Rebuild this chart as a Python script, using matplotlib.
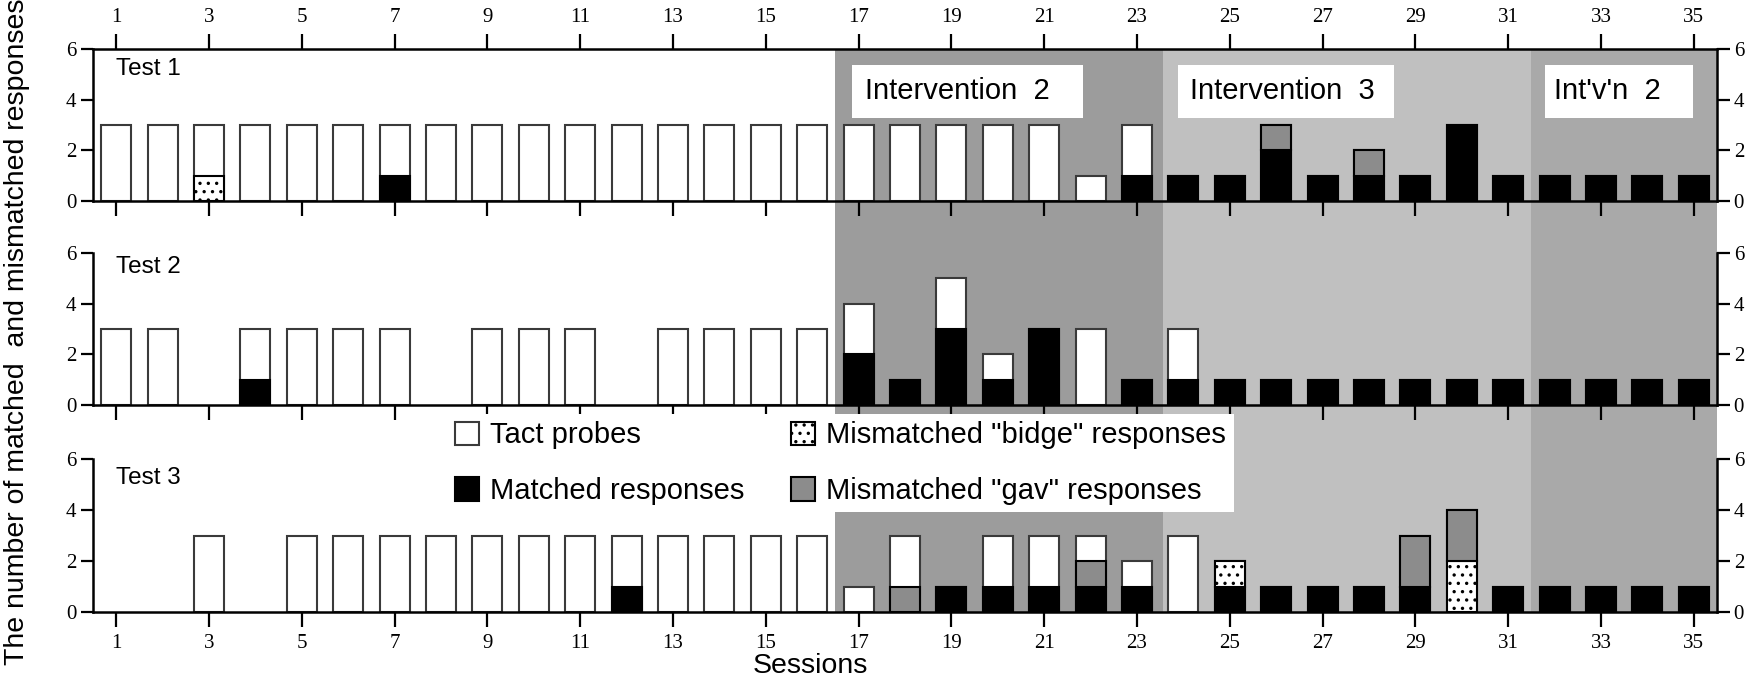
import numpy as np
import matplotlib
matplotlib.use('Agg')
import matplotlib.pyplot as plt
from matplotlib.patches import Rectangle, Patch
from matplotlib import transforms

plt.rcParams['font.family'] = ['Liberation Sans', 'DejaVu Sans']
plt.rcParams['hatch.linewidth'] = 1.2

### data (one value per session, sessions 1..35):
sessions = np.arange(1, 36)

total1   = [3,3,3,3,3,3,3,3,3,3,3,3,3,3,3,3,3,3,3,3,3,1,3,1,1,3,1,2,1,3,1,1,1,1,1]
matched1 = [0,0,0,0,0,0,1,0,0,0,0,0,0,0,0,0,0,0,0,0,0,0,1,1,1,2,1,1,1,3,1,1,1,1,1]
bidge1   = [0,0,1,0,0,0,0,0,0,0,0,0,0,0,0,0,0,0,0,0,0,0,0,0,0,0,0,0,0,0,0,0,0,0,0]
gav1     = [0,0,0,0,0,0,0,0,0,0,0,0,0,0,0,0,0,0,0,0,0,0,0,0,0,1,0,1,0,0,0,0,0,0,0]

total2   = [3,3,0,3,3,3,3,0,3,3,3,0,3,3,3,3,4,1,5,2,3,3,1,3,1,1,1,1,1,1,1,1,1,1,1]
matched2 = [0,0,0,1,0,0,0,0,0,0,0,0,0,0,0,0,2,1,3,1,3,0,1,1,1,1,1,1,1,1,1,1,1,1,1]
bidge2   = [0,0,0,0,0,0,0,0,0,0,0,0,0,0,0,0,0,0,0,0,0,0,0,0,0,0,0,0,0,0,0,0,0,0,0]
gav2     = [0,0,0,0,0,0,0,0,0,0,0,0,0,0,0,0,0,0,0,0,0,0,0,0,0,0,0,0,0,0,0,0,0,0,0]

total3   = [0,0,3,0,3,3,3,3,3,3,3,3,3,3,3,3,1,3,1,3,3,3,2,3,2,1,1,1,3,4,1,1,1,1,1]
matched3 = [0,0,0,0,0,0,0,0,0,0,0,1,0,0,0,0,0,0,1,1,1,1,1,0,1,1,1,1,1,0,1,1,1,1,1]
bidge3   = [0,0,0,0,0,0,0,0,0,0,0,0,0,0,0,0,0,0,0,0,0,0,0,0,1,0,0,0,0,2,0,0,0,0,0]
gav3     = [0,0,0,0,0,0,0,0,0,0,0,0,0,0,0,0,0,1,0,0,0,1,0,0,0,0,0,0,2,2,0,0,0,0,0]

tests       = ['Test 1', 'Test 2', 'Test 3']
phase_names = ["Intervention  2", "Intervention  3", "Int'v'n  2"]
phase_start = [16.5, 23.55, 31.5]
phase_end   = [23.55, 31.5, 35.5]
phase_color = ['#9c9c9c', '#c0c0c0', '#a9a9a9']

data = [(total1, matched1, bidge1, gav1),
        (total2, matched2, bidge2, gav2),
        (total3, matched3, bidge3, gav3)]

### layout:
W, H   = 1765, 686
left   = 93 / W
width  = (1717 - 93) / W
panels = [(49, 201), (253, 405), (459, 612)]   # pixel rows of y=6 and y=0
fig    = plt.figure(figsize=(W/100, H/100), dpi=100)
AX     = [fig.add_axes([left, 1 - y0/H, width, (y0 - y6)/H]) for y6, y0 in panels]

bw   = 0.65
edge = '#3a3a3a'
for i, (ax, (tot, mat, bid, gav)) in enumerate(zip(AX, data)):
	tot, mat, bid, gav = [np.array(a, dtype=float) for a in (tot, mat, bid, gav)]
	m = tot > 0
	ax.bar(sessions[m], tot[m], bw, color='white', edgecolor=edge, lw=1.5, zorder=2)
	m = mat > 0
	ax.bar(sessions[m], mat[m], bw, color='black', edgecolor='black', lw=1.5, zorder=3)
	m = bid > 0
	ax.bar(sessions[m], bid[m], bw, bottom=mat[m], color='white', hatch='..', edgecolor='black', lw=1.5, zorder=3)
	m = gav > 0
	ax.bar(sessions[m], gav[m], bw, bottom=(mat + bid)[m], color='#8c8c8c', edgecolor='black', lw=1.5, zorder=3)

	ax.set_facecolor('none')
	ax.set_xlim(0.5, 35.5)
	ax.set_ylim(0, 6)
	ax.set_xticks(np.arange(1, 36, 2))
	ax.set_yticks([0, 2, 4, 6])
	for sp in ax.spines.values():
		sp.set_linewidth(1.8)
	ax.spines['top'].set_visible(i == 0)
	ax.tick_params(axis='both', direction='out', length=11, width=1.6, labelsize=15,
		labelfontfamily='Liberation Serif')
	ax.tick_params(axis='y', left=True, right=True, labelleft=True, labelright=True, length=9, pad=3)
	ax.tick_params(axis='x', bottom=True, top=(i == 0), labelbottom=(i == 2), labeltop=(i == 0), pad=5)
	ty = [5.2, 5.45, 5.25][i]
	ax.text(1.0, ty, tests[i], fontsize=17.5, va='center', ha='left', zorder=5)

### phase shading across all three panels:
trans = transforms.blended_transform_factory(AX[0].transData, fig.transFigure)
y_bot = 1 - 612/H
y_top = 1 - 49/H
for x0, x1, c in zip(phase_start, phase_end, phase_color):
	fig.add_artist(Rectangle((x0, y_bot), x1 - x0, y_top - y_bot, transform=trans,
		facecolor=c, edgecolor='none', zorder=-1))

### phase labels in white boxes:
boxes = [(16.86, 21.84, 17.14), (23.89, 28.53, 24.15), (31.79, 34.98, 31.98)]
for name, (b0, b1, tx) in zip(phase_names, boxes):
	AX[0].add_patch(Rectangle((b0, 3.28), b1 - b0, 2.09, facecolor='white', edgecolor='none', zorder=1))
	AX[0].text(tx, 4.33, name, fontsize=21, va='center', ha='left', zorder=5)

### legend:
handles = [Patch(facecolor='white', edgecolor=edge, lw=1.5),
           Patch(facecolor='black', edgecolor='black', lw=1.5),
           Patch(facecolor='white', edgecolor='black', hatch='..', lw=1.5),
           Patch(facecolor='#8c8c8c', edgecolor='black', lw=1.5)]
labels  = ['Tact probes', 'Matched responses',
           'Mismatched "bidge" responses', 'Mismatched "gav" responses']
leg = fig.legend(handles, labels, ncol=2, loc='upper left', bbox_to_anchor=(448/W, 1 - 414/H),
	borderaxespad=0, frameon=True, fancybox=False, facecolor='white', edgecolor='none',
	framealpha=1, fontsize=21, handlelength=0.8, handleheight=0.85, handletextpad=0.4,
	columnspacing=1.6, labelspacing=0.95, borderpad=0.25)
leg.set_zorder(5)

fig.text(17/W, 0.516, 'The number of matched  and mismatched responses', rotation=90,
	fontsize=20.5, ha='center', va='center')
fig.text(810/W, 1 - 666/H, 'Sessions', fontsize=20.5, ha='center', va='center')

plt.savefig('out.png', dpi=100)
